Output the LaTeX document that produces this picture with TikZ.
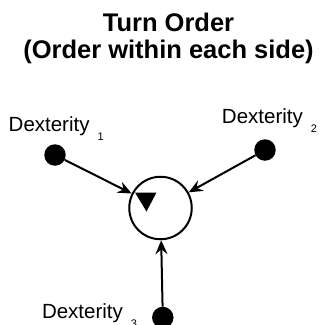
\documentclass[tikz,border=0pt]{standalone}
\usepackage{fontspec}
\setmainfont{Liberation Sans}
\usetikzlibrary{positioning,arrows.meta}
\newcommand{\dexsub}[1]{\hspace{8pt}\raisebox{-9.5pt}{\fontsize{11}{13}\selectfont #1}}

\begin{document}
\begin{tikzpicture}[x=1pt,y=-1pt,>={Stealth[length=14pt,width=12pt,inset=5pt]},
  dot/.style={circle,fill=black,inner sep=0pt,minimum size=21.5pt},
  lbl/.style={anchor=base west,inner sep=0pt,font=\fontsize{20.5}{24}\selectfont}]
  \useasboundingbox (0,0) rectangle (324,325);
  \node[align=center,anchor=north,inner sep=0pt,font=\bfseries\fontsize{25.5}{27}\selectfont] (title) at (168.5,13) {Turn Order\\(Order within each side)};
  \node[draw,circle,line width=2pt,minimum size=62.5pt,inner sep=0pt] (turn) at (160.5,208) {};
  \fill (135,192.5) -- (156.5,192.5) -- (146.5,211.5) -- cycle;
  \node[dot] (dex1) at (55,155) {};
  \node[dot] (dex2) at (265,150) {};
  \node[dot] (dex3) at (162.8,317.5) {};
  \node[lbl] (lbl1) at (8.5,131.3) {Dexterity\dexsub{1}};
  \node[lbl] (lbl2) at (221.8,123.3) {Dexterity\dexsub{2}};
  \node[lbl] (lbl3) at (41.8,318.3) {Dexterity\dexsub{3}};

  \draw[->,line width=2pt] (dex1) -- (turn);
  \draw[->,line width=2pt] (dex2) -- (turn);
  \draw[->,line width=2pt] (dex3) -- (turn);
\end{tikzpicture}
\end{document}
